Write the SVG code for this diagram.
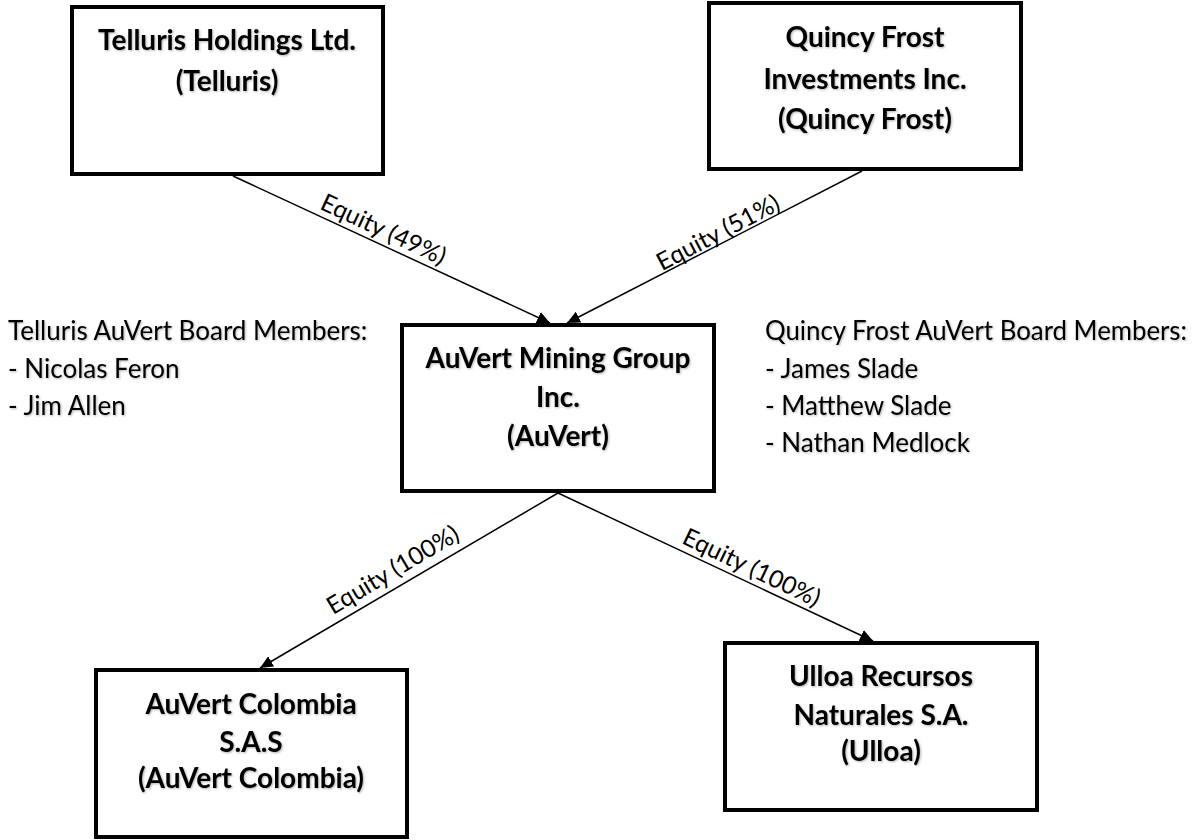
<svg xmlns="http://www.w3.org/2000/svg" width="1196" height="840" viewBox="0 0 1196 840">
  <defs>
    <style>
      .box { fill: #fff; stroke: #000; stroke-width: 4; }
      .nt { font-family: Lato, "Liberation Sans", sans-serif; font-weight: bold; font-size: 28px; fill: #000; text-anchor: middle; }
      .bt { font-family: Lato, "Liberation Sans", sans-serif; font-size: 26px; fill: #000; }
      .et { font-family: Lato, "Liberation Sans", sans-serif; font-size: 24.5px; fill: #000; text-anchor: middle; }
      .conn { stroke: #000; stroke-width: 1.5; fill: none; marker-end: url(#arr); }
      .sh { filter: url(#shadow); }
    </style>
    <filter id="shadow" x="-5%" y="-20%" width="110%" height="140%">
      <feDropShadow dx="1" dy="1" stdDeviation="0.8" flood-color="#000" flood-opacity="0.3"/>
    </filter>
    <marker id="arr" markerUnits="userSpaceOnUse" markerWidth="13" markerHeight="12" refX="13" refY="6" orient="auto">
      <path d="M0,0 L13,6 L0,12 z" fill="#000"/>
    </marker>
  </defs>
  <rect width="1196" height="840" fill="#fff"/>

  <g id="connectors">
    <line class="conn" x1="233" y1="176" x2="550" y2="323"/>
    <line class="conn" x1="862" y1="171" x2="567" y2="323"/>
    <line class="conn" x1="558" y1="493" x2="260" y2="668"/>
    <line class="conn" x1="558" y1="493" x2="873" y2="641"/>
    <text class="et" transform="translate(380,237) rotate(25.03)">Equity (49%)</text>
    <text class="et" transform="translate(722,240) rotate(-27.57)">Equity (51%)</text>
    <text class="et" transform="translate(397,577) rotate(-30.85)">Equity (100%)</text>
    <text class="et" transform="translate(748,575) rotate(25.6)">Equity (100%)</text>
  </g>

  <g id="telluris">
    <rect class="box" x="72" y="7" width="311" height="167"/>
    <g class="sh">
      <text class="nt" x="227" y="50">Telluris Holdings Ltd.</text>
      <text class="nt" x="227" y="91">(Telluris)</text>
    </g>
  </g>

  <g id="quincy">
    <rect class="box" x="709" y="3" width="312" height="166"/>
    <g class="sh">
      <text class="nt" x="865" y="47">Quincy Frost</text>
      <text class="nt" x="865" y="89">Investments Inc.</text>
      <text class="nt" x="865" y="129">(Quincy Frost)</text>
    </g>
  </g>

  <g id="auvert">
    <rect class="box" x="402" y="325" width="312" height="166"/>
    <g class="sh">
      <text class="nt" x="558" y="368">AuVert Mining Group</text>
      <text class="nt" x="558" y="407">Inc.</text>
      <text class="nt" x="558" y="446">(AuVert)</text>
    </g>
  </g>

  <g id="colombia">
    <rect class="box" x="96" y="670" width="311" height="167"/>
    <g class="sh">
      <text class="nt" x="251" y="714">AuVert Colombia</text>
      <text class="nt" x="251" y="752">S.A.S</text>
      <text class="nt" x="251" y="788">(AuVert Colombia)</text>
    </g>
  </g>

  <g id="ulloa">
    <rect class="box" x="725" y="643" width="312" height="167"/>
    <g class="sh">
      <text class="nt" x="881" y="686">Ulloa Recursos</text>
      <text class="nt" x="881" y="725">Naturales S.A.</text>
      <text class="nt" x="881" y="761">(Ulloa)</text>
    </g>
  </g>

  <g id="telluris-board" class="sh">
    <text class="bt" x="8" y="340">Telluris AuVert Board Members:</text>
    <text class="bt" x="8" y="378">- Nicolas Feron</text>
    <text class="bt" x="8" y="415">- Jim Allen</text>
  </g>

  <g id="quincy-board" class="sh">
    <text class="bt" x="765" y="340" textLength="422" lengthAdjust="spacingAndGlyphs">Quincy Frost AuVert Board Members:</text>
    <text class="bt" x="765" y="378">- James Slade</text>
    <text class="bt" x="765" y="415">- Matthew Slade</text>
    <text class="bt" x="765" y="452">- Nathan Medlock</text>
  </g>
</svg>
